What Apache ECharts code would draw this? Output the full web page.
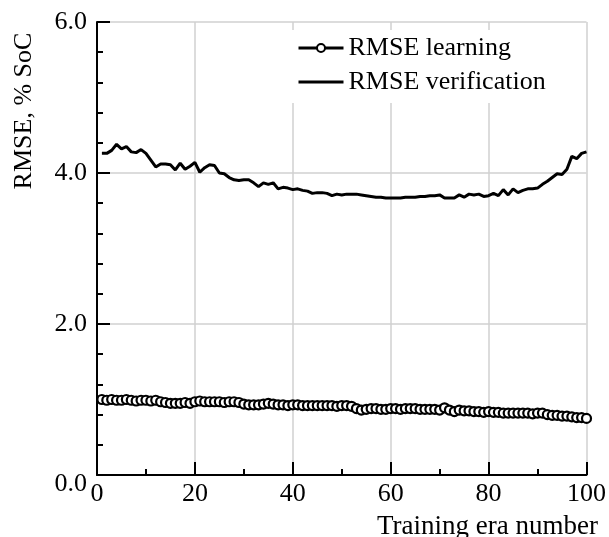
<!DOCTYPE html>
<html>
<head>
<meta charset="utf-8">
<script src="https://cdn.jsdelivr.net/npm/echarts@6/dist/echarts.min.js"></script>
<style>
  html, body { margin: 0; padding: 0; background: #fff; }
  #chart { width: 609px; height: 537px; }
</style>
</head>
<body>
<div id="chart"></div>
<script>
// Training eras 1..100
const epochs = Array.from({ length: 100 }, (_, i) => i + 1);

// RMSE on the learning set, % SoC
const rmseLearning = [
  1.00, 0.99, 1.00, 0.99, 0.99, 1.00, 0.99, 0.98, 0.99, 0.99,
  0.98, 0.99, 0.97, 0.96, 0.95, 0.95, 0.95, 0.96, 0.95, 0.97,
  0.98, 0.97, 0.97, 0.97, 0.97, 0.96, 0.97, 0.97, 0.96, 0.94,
  0.93, 0.93, 0.93, 0.94, 0.95, 0.94, 0.93, 0.93, 0.92, 0.93,
  0.93, 0.92, 0.92, 0.92, 0.92, 0.92, 0.92, 0.92, 0.91, 0.92,
  0.92, 0.91, 0.88, 0.86, 0.87, 0.88, 0.88, 0.87, 0.87, 0.88,
  0.88, 0.87, 0.88, 0.88, 0.88, 0.87, 0.87, 0.87, 0.87, 0.86,
  0.89, 0.86, 0.84, 0.86, 0.85, 0.85, 0.84, 0.84, 0.83, 0.84,
  0.83, 0.83, 0.82, 0.82, 0.82, 0.82, 0.82, 0.82, 0.81, 0.82,
  0.82, 0.80, 0.79, 0.79, 0.78, 0.78, 0.77, 0.76, 0.76, 0.75
];

// RMSE on the verification set, % SoC
const rmseVerification = [
  4.26, 4.26, 4.30, 4.38, 4.32, 4.35, 4.28, 4.27, 4.31, 4.26,
  4.17, 4.08, 4.12, 4.12, 4.11, 4.04, 4.13, 4.05, 4.09, 4.14,
  4.01, 4.07, 4.11, 4.10, 4.00, 3.99, 3.94, 3.91, 3.90, 3.91,
  3.91, 3.87, 3.82, 3.87, 3.85, 3.87, 3.79, 3.81, 3.80, 3.78,
  3.79, 3.77, 3.76, 3.73, 3.74, 3.74, 3.73, 3.70, 3.72, 3.71,
  3.72, 3.72, 3.72, 3.71, 3.70, 3.69, 3.68, 3.68, 3.67, 3.67,
  3.67, 3.67, 3.68, 3.68, 3.68, 3.69, 3.69, 3.70, 3.70, 3.71,
  3.67, 3.67, 3.67, 3.71, 3.68, 3.72, 3.71, 3.72, 3.69, 3.70,
  3.73, 3.70, 3.78, 3.71, 3.79, 3.74, 3.77, 3.79, 3.79, 3.80,
  3.85, 3.89, 3.94, 3.99, 3.98, 4.05, 4.22, 4.19, 4.26, 4.28
];

const seriesNames = ['RMSE learning', 'RMSE verification'];
const xTitle = 'Training era number';
const yTitle = 'RMSE, % SoC';

const FONT = '"Liberation Serif", "Times New Roman", serif';
const FS = 26;

const pair = (xs, ys) => xs.map((x, i) => [x, ys[i]]);

const chart = echarts.init(document.getElementById('chart'), null, { renderer: 'canvas' });

chart.setOption({
  animation: false,
  backgroundColor: '#fff',
  textStyle: { fontFamily: FONT, color: '#000' },
  grid: { left: 97, right: 21, top: 22, bottom: 62, containLabel: false },
  legend: {
    orient: 'vertical',
    left: 287,
    top: 30,
    padding: [5, 30, 8, 10],
    itemGap: 8,
    itemWidth: 45,
    itemHeight: 10,
    backgroundColor: '#fff',
    lineStyle: { width: 3 },
    textStyle: { fontFamily: FONT, fontSize: FS, color: '#000' },
    data: [
      { name: seriesNames[0] },
      // plain line key: hide the marker of the line-only series
      { name: seriesNames[1], itemStyle: { opacity: 0 } }
    ]
  },
  xAxis: {
    type: 'value',
    min: 0,
    max: 100,
    interval: 20,
    axisLine: { show: true, lineStyle: { color: '#000', width: 2 } },
    axisTick: { show: true, inside: true, length: 13, lineStyle: { color: '#000', width: 2 } },
    minorTick: { show: true, splitNumber: 2, length: 6, lineStyle: { color: '#000', width: 2 } },
    splitLine: { show: true, lineStyle: { color: '#d0d0d0', width: 1.5 } },
    axisLabel: { fontFamily: FONT, fontSize: FS, color: '#000', margin: 6 }
  },
  yAxis: {
    type: 'value',
    min: 0,
    max: 6,
    interval: 2,
    axisLine: { show: true, lineStyle: { color: '#000', width: 2 } },
    axisTick: { show: true, inside: true, length: 13, lineStyle: { color: '#000', width: 2 } },
    minorTick: { show: true, splitNumber: 5, length: 6, lineStyle: { color: '#000', width: 2 } },
    splitLine: { show: true, lineStyle: { color: '#d0d0d0', width: 1.5 } },
    axisLabel: {
      fontFamily: FONT, fontSize: FS, color: '#000', margin: 10,
      formatter: v => v === 0 ? '{z|0.0}' : v.toFixed(1),
      rich: { z: { fontFamily: FONT, fontSize: FS, color: '#000', padding: [18, 0, 0, 0] } }
    }
  },
  graphic: [
    {
      type: 'text',
      x: 24,
      y: 111,
      rotation: Math.PI / 2,
      style: {
        text: yTitle, fontFamily: FONT, fontSize: FS, fill: '#000',
        align: 'center', verticalAlign: 'middle'
      }
    },
    {
      type: 'text',
      x: 598,
      y: 527,
      style: {
        text: xTitle, fontFamily: FONT, fontSize: 27, fill: '#000',
        align: 'right', verticalAlign: 'middle'
      }
    }
  ],
  series: [
    {
      name: seriesNames[0],
      type: 'line',
      data: pair(epochs, rmseLearning),
      symbol: 'circle',
      symbolSize: 9,
      showAllSymbol: true,
      lineStyle: { color: '#000', width: 2 },
      itemStyle: { color: '#fff', borderColor: '#000', borderWidth: 2.2 },
      z: 3
    },
    {
      name: seriesNames[1],
      type: 'line',
      data: pair(epochs, rmseVerification),
      symbol: 'none',
      lineStyle: { color: '#000', width: 3 },
      itemStyle: { color: '#000' },
      z: 2
    }
  ]
});
</script>
</body>
</html>
